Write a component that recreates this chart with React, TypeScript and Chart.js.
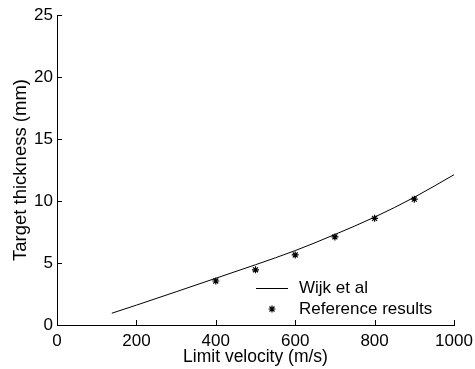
import React, { useEffect, useRef } from "react";
import { Chart, registerables } from "chart.js";

Chart.register(...registerables);

// Wijk et al curve (limit velocity m/s -> target thickness mm)
const curveVelocity = [138, 200, 300, 400, 500, 600, 700, 800, 900, 1000];
const curveThickness = [0.95, 1.6, 2.68, 3.77, 4.86, 6.0, 7.3, 8.7, 10.3, 12.12];

// Reference results
const refVelocity = [400, 500, 600, 700, 800, 900];
const refThickness = [3.55, 4.45, 5.65, 7.1, 8.6, 10.15];

const seriesLabels = ["Wijk et al", "Reference results"];
const xTitle = "Limit velocity (m/s)";
const yTitle = "Target thickness (mm)";
const xTicks = [0, 200, 400, 600, 800, 1000];
const yTicks = [0, 5, 10, 15, 20, 25];

const FONT_FAMILY = "'Liberation Sans', Arial, Helvetica, sans-serif";
const FONT_SIZE = 17;

const inwardTicks = {
  id: "inwardTicks",
  afterDraw(chart: any) {
    const ctx = chart.ctx;
    const area = chart.chartArea;
    const xs = chart.scales.x;
    const ys = chart.scales.y;
    const len = 5;
    ctx.save();
    ctx.strokeStyle = "#000";
    ctx.lineWidth = 1;
    ctx.beginPath();
    for (const v of xTicks) {
      const px = Math.round(xs.getPixelForValue(v)) + 0.5;
      ctx.moveTo(px, area.bottom);
      ctx.lineTo(px, area.bottom - len);
    }
    for (const v of yTicks) {
      const py = Math.round(ys.getPixelForValue(v)) + 0.5;
      ctx.moveTo(area.left, py);
      ctx.lineTo(area.left + len, py);
    }
    ctx.stroke();
    ctx.restore();
  },
};

const insideLegend = {
  id: "insideLegend",
  afterDraw(chart: any) {
    const ctx = chart.ctx;
    const x0 = 256;
    const y0 = 288;
    const rowH = 21;
    ctx.save();
    ctx.fillStyle = "#000";
    ctx.strokeStyle = "#000";
    ctx.font = `${FONT_SIZE}px ${FONT_FAMILY}`;
    ctx.textBaseline = "middle";
    ctx.textAlign = "left";
    ctx.lineWidth = 1;
    ctx.beginPath();
    ctx.moveTo(x0, y0 + 0.5);
    ctx.lineTo(x0 + 32, y0 + 0.5);
    ctx.stroke();
    ctx.fillText(chart.data.datasets[0].label, x0 + 43, y0);
    const sy = y0 + rowH;
    const sx = x0 + 16;
    const r = 3.5;
    ctx.lineWidth = 1.2;
    ctx.beginPath();
    for (let i = 0; i < 4; i++) {
      const a = (i * Math.PI) / 4;
      ctx.moveTo(sx - r * Math.cos(a), sy - r * Math.sin(a));
      ctx.lineTo(sx + r * Math.cos(a), sy + r * Math.sin(a));
    }
    ctx.stroke();
    ctx.fillText(chart.data.datasets[1].label, x0 + 43, sy);
    ctx.restore();
  },
};

export default function App() {
  const ref = useRef<HTMLCanvasElement | null>(null);

  useEffect(() => {
    document.body.style.margin = "0";
    const canvas = ref.current;
    if (!canvas) return;
    const tickFont = { family: FONT_FAMILY, size: FONT_SIZE };
    const xTitleFont = { family: FONT_FAMILY, size: 17.5 };
    const yTitleFont = { family: FONT_FAMILY, size: 18.5 };
    const chart = new Chart(canvas, {
      type: "line",
      data: {
        datasets: [
          {
            label: seriesLabels[0],
            data: curveVelocity.map((v, i) => ({ x: v, y: curveThickness[i] })),
            borderColor: "#000",
            backgroundColor: "#000",
            borderWidth: 1,
            pointRadius: 0,
            cubicInterpolationMode: "monotone",
            fill: false,
          },
          {
            label: seriesLabels[1],
            data: refVelocity.map((v, i) => ({ x: v, y: refThickness[i] })),
            showLine: false,
            pointStyle: "star",
            pointRadius: 3.5,
            pointBorderWidth: 1.2,
            borderColor: "#000",
            backgroundColor: "#000",
          },
        ],
      },
      options: {
        responsive: false,
        animation: false,
        devicePixelRatio: 1,
        layout: { padding: { top: 15, right: 21, bottom: 0, left: 0 } },
        plugins: { legend: { display: false }, tooltip: { enabled: false } },
        scales: {
          x: {
            type: "linear",
            min: 0,
            max: 1000,
            afterBuildTicks: (s: any) => {
              s.ticks = xTicks.map((v) => ({ value: v }));
            },
            afterFit: (s: any) => {
              s.height = 44;
              s.paddingLeft = 0;
              s.paddingRight = 0;
            },
            ticks: {
              font: tickFont,
              color: "#000",
              padding: 6,
              maxRotation: 0,
              autoSkip: false,
              callback: (v: any) => String(v),
            },
            grid: { display: false, drawTicks: false },
            border: { display: true, color: "#000", width: 1 },
            title: {
              display: true,
              text: xTitle,
              color: "#000",
              font: xTitleFont,
              padding: { top: 0, bottom: 1 },
            },
          },
          y: {
            type: "linear",
            min: 0,
            max: 25,
            afterBuildTicks: (s: any) => {
              s.ticks = yTicks.map((v) => ({ value: v }));
            },
            afterFit: (s: any) => {
              s.width = 57;
              s.paddingTop = 0;
              s.paddingBottom = 0;
            },
            ticks: {
              font: tickFont,
              color: "#000",
              padding: 4,
              autoSkip: false,
              callback: (v: any) => String(v),
            },
            grid: { display: false, drawTicks: false },
            border: { display: true, color: "#000", width: 1 },
            title: {
              display: true,
              text: yTitle,
              color: "#000",
              font: yTitleFont,
              padding: { top: 10, bottom: 0 },
            },
          },
        },
      },
      plugins: [inwardTicks, insideLegend],
    } as any);
    return () => chart.destroy();
  }, []);

  return (
    <div style={{ width: 475, height: 369, position: "relative", background: "#fff" }}>
      <canvas ref={ref} width={475} height={369} style={{ display: "block" }} />
    </div>
  );
}
